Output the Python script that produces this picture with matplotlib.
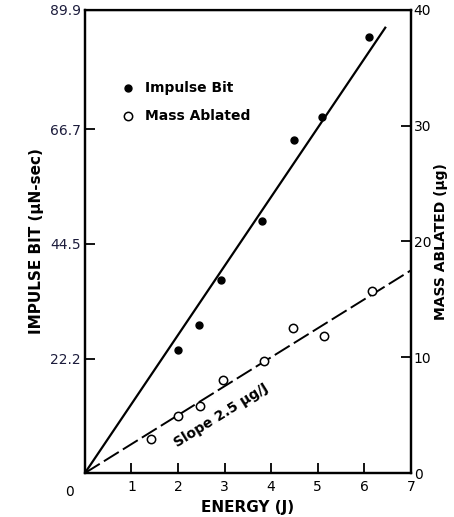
import matplotlib.pyplot as plt
import numpy as np

# impulse bit data (uN-sec, left axis)
energy_ib = [2.0, 2.45, 2.92, 3.81, 4.49, 5.10, 6.10]
impulse_bit = [23.8, 28.8, 37.4, 48.9, 64.6, 69.1, 84.7]

# mass ablated data (ug, right axis)
energy_ma = [1.43, 2.0, 2.47, 2.97, 3.85, 4.47, 5.14, 6.16]
mass_ablated = [2.9, 4.9, 5.75, 8.0, 9.7, 12.55, 11.8, 15.7]

ib_slope = 13.4   # uN-sec per J
ib_fit_end = 6.45
ma_slope = 2.5    # ug per J
ma_fit_end = 7.0

left_ticks = [22.2, 44.5, 66.7, 89.9]
right_ticks = [0, 10, 20, 30, 40]
x_ticks = [1, 2, 3, 4, 5, 6, 7]

plt.rcParams['font.family'] = ['DejaVu Sans']

fig = plt.figure(figsize=(4.54, 5.17), dpi=100)
ax = fig.add_axes([0.187, 0.085, 0.718, 0.896])
ax2 = ax.twinx()

# fitted lines
xf = np.array([0, ib_fit_end])
ax.plot(xf, ib_slope * xf, color='black', lw=1.6)
xm = np.array([0, ma_fit_end])
ax2.plot(xm, ma_slope * xm, color='black', lw=1.4, dashes=(9, 2.5))

ax.plot(energy_ib, impulse_bit, 'o', color='black', ms=5)
ax2.plot(energy_ma, mass_ablated, 'o', mfc='white', mec='black', mew=1.1, ms=6)

ax.set_xlim(0, 7)
ax.set_ylim(0, 89.9)
ax2.set_ylim(0, 40)

ax.set_xticks(x_ticks)
ax.set_xticklabels([str(t) for t in x_ticks], fontsize=10)
ax.set_yticks(left_ticks)
ax.set_yticklabels([f"{t}" for t in left_ticks], fontsize=10, color='#1c1c3c')
ax2.set_yticks(right_ticks)
ax2.set_yticklabels([str(t) for t in right_ticks], fontsize=10)

ax.tick_params(axis='x', direction='in', length=7, width=1.3, pad=5)
ax.tick_params(axis='y', direction='in', length=7, width=1.3, pad=3)
ax2.tick_params(axis='y', direction='in', length=7, width=1.3, pad=2)
ax.annotate("0", (0, 0), xytext=(-11, -14), textcoords='offset points',
            fontsize=10, ha='center', va='center')

for a in (ax, ax2):
    for s in a.spines.values():
        s.set_linewidth(1.6)
ax.spines['top'].set_linewidth(1.0)

ax.set_xlabel("ENERGY (J)", fontsize=11, fontweight='bold', labelpad=4)
ax.set_ylabel("IMPULSE BIT (\u03bcN-sec)", fontsize=11, fontweight='bold', labelpad=4)
ax2.set_ylabel("MASS ABLATED (\u03bcg)", fontsize=10, fontweight='bold', labelpad=2)

# legend
ax.plot([0.92], [74.7], 'o', color='black', ms=5)
ax.text(1.3, 74.7, "Impulse Bit", fontsize=10, fontweight='bold', va='center')
ax.plot([0.92], [69.3], 'o', mfc='white', mec='black', mew=1.1, ms=6)
ax.text(1.3, 69.3, "Mass Ablated", fontsize=10, fontweight='bold', va='center')

ax2.text(2.92, 5.0, "Slope 2.5 \u03bcg/J", fontsize=10, fontweight='bold',
         rotation=32, ha='center', va='center', rotation_mode='anchor')

fig.savefig("out.png", dpi=100)
